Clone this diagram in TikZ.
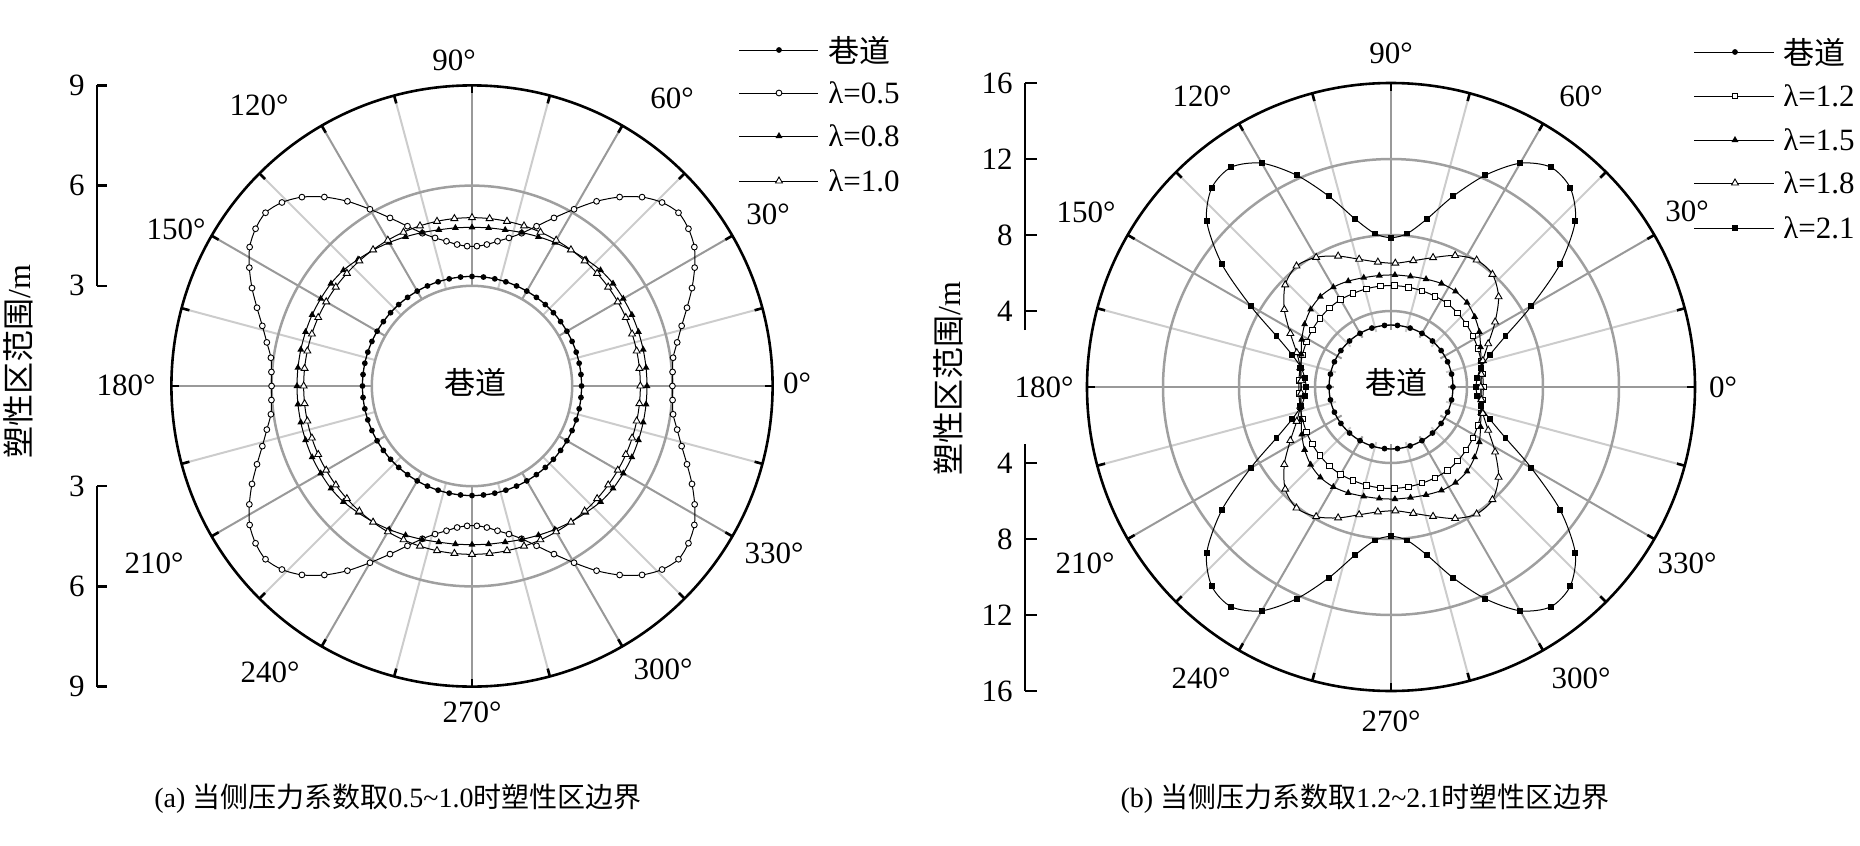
\documentclass[tikz,border=0pt]{standalone}
\usepackage{fontspec}
\setmainfont{Liberation Serif}
\newfontfamily\cjk{Noto Sans CJK SC}
\usetikzlibrary{shapes.geometric}

% plastic zone radius (m) over one quarter, folded angle from 0 deg
\def\rLa{{6.00,6.02,6.08,6.28,6.53,6.85,7.21,7.55,7.85,8.01,8.07,7.91,7.61,7.18,6.67,6.11,5.60,5.16,4.81,4.57,4.40,4.26,4.19}} % 0.5, 4 deg
\def\rLb{{5.24,5.24,5.24,5.24,5.24,5.23,5.22,5.18,5.10,5.03,4.96,4.89,4.83,4.78,4.76,4.75}} % 0.8, 6 deg
\def\rLc{{4.86,4.86,4.87,4.89,4.93,4.96,5.00,5.04,5.08,5.12,5.16,5.20,5.24,5.27,5.30,5.31,5.31,5.31,5.32,5.33,5.33,5.34,5.34}} % 1.2, 4 deg
\def\rLd{{4.75,4.76,4.78,4.84,4.92,5.03,5.16,5.32,5.48,5.62,5.75,5.88,5.98,6.04,6.07,6.07,6.06,6.01,5.97,5.93,5.91,5.90,5.90}} % 1.5, 4 deg
\def\rLe{{4.72,4.74,4.80,4.88,5.03,5.28,5.60,6.00,6.46,6.94,7.39,7.74,7.98,8.08,8.06,7.88,7.70,7.43,7.16,6.93,6.75,6.61,6.52}} % 1.8, 4 deg
\def\rLf{{4.47,4.57,4.83,5.47,6.60,8.53,11.0,13.05,14.1,14.3,13.6,12.2,10.55,9.03,8.12,7.86}} % 2.1, 6 deg
\def\ka{33.4} % px per m, left
\def\kb{19}   % px per m, right

% boundary: table, table step, marker step, marker
\newcommand\bnd[4]{%
  \draw[curve] plot[smooth cycle, variable=\x, samples at={0,#3,...,359}]
    (\x:{#1[int(fold(\x)/#2+0.5)]});
  \foreach \x in {0,#3,...,359}
    \node[#4] at (\x:{#1[int(fold(\x)/#2+0.5)]}) {};
}

\begin{document}
\begin{tikzpicture}[x=0.5pt, y=0.5pt,
    declare function={fold(\x)=90-abs(mod(\x,180)-90);},
    gridl/.style={draw=gray!40, line width=1pt},
    gridd/.style={draw=gray!80, line width=1pt},
    gridc/.style={draw=gray!75, line width=1.25pt},
    rim/.style={draw=black, line width=1.3pt},
    axbar/.style={draw=black, line width=1.15pt},
    curve/.style={draw=black, line width=0.5pt},
    dotm/.style={circle, fill=black, inner sep=0pt, minimum size=2.9pt},
    circm/.style={circle, draw=black, fill=white, line width=0.45pt, inner sep=0pt, minimum size=2.9pt},
    trif/.style={regular polygon, regular polygon sides=3, fill=black, inner sep=0pt, minimum size=4pt},
    trio/.style={trif, draw=black, fill=white, line width=0.45pt},
    sqf/.style={rectangle, fill=black, inner sep=0pt, minimum size=2.9pt},
    sqo/.style={sqf, draw=black, fill=white, line width=0.45pt, minimum size=2.7pt},
    lbl/.style={font=\fontsize{15.5}{18}\selectfont, inner sep=0pt},
    leg/.style={font=\fontsize{15.5}{18}\selectfont, inner sep=0pt, anchor=west}]
  \useasboundingbox (0,0) rectangle (1860,-846);

  % (a) lambda 0.5 ~ 1.0
  \begin{scope}[shift={(472,-386)}]
    \begin{scope}[scale=\ka]
      \foreach \a in {15,45,...,345} \draw[gridl] (\a:3) -- (\a:9);
      \foreach \a in {0,30,...,330} \draw[gridd] (\a:3) -- (\a:9);
      \foreach \r in {3,6} \draw[gridc] (0,0) circle[radius=\r];
      \draw[rim] (0,0) circle[radius=9];
      \foreach \a in {0,15,...,345} \draw[rim] (\a:9) -- (\a:8.76);
      % boundaries
      \draw[curve, line width=0.65pt] (0,0) circle[radius=3.28];
      \foreach \x in {0,6,...,359} \node[dotm] at (\x:3.28) {};
      \bnd{\rLa}{4}{4}{circm}
      \bnd{\rLb}{6}{6}{trif}
      \draw[curve] (0,0) circle[radius=5.04];
      \foreach \x in {0,6,...,359} \node[trio] at (\x:5.04) {};
    \end{scope}

    % angle labels
    \foreach \a/\dx/\dy in {0/325/3, 30/296/172, 60/200/288, 90/-18/326,
        120/-213/281, 150/-296/157, 180/-346/1, 210/-318/-177,
        240/-202/-286, 270/0/-326, 300/191/-283, 330/302/-167}
      \node[lbl] at (\dx,\dy) {\a{}°};

    % radial scale
    \draw[axbar] (-375,{3*\ka}) -- (-375,{9*\ka});
    \draw[axbar] (-375,{-3*\ka}) -- (-375,{-9*\ka});
    \foreach \v in {3,6,9} {
      \draw[axbar] (-375,{\v*\ka}) -- ++(10,0);
      \draw[axbar] (-375,{-\v*\ka}) -- ++(10,0);
      \node[lbl, anchor=east] at (-387,{\v*\ka}) {\v};
      \node[lbl, anchor=east] at (-387,{-\v*\ka}) {\v};
    }
    \node[font=\fontsize{16}{18}\selectfont, rotate=90] (ylabA) at (-454,24) {{\cjk 塑性区范围}/m};
    \node[font=\fontsize{15.5}{18}\selectfont\cjk] (tunA) at (3,4) {巷道};

    % legend
    \foreach \y/\m/\txt in {336/dotm/{\cjk 巷道}, 293/circm/λ=0.5, 250/trif/λ=0.8, 205/trio/λ=1.0} {
      \draw[curve] (267,\y) -- (346,\y);
      \node[\m] at (307,\y) {};
      \node[leg] at (356,\y) {\txt};
    }

    \node[font=\fontsize{14}{17}\selectfont] (capA) at (-74,-413)
      {(a) {\cjk 当侧压力系数取}0.5\textasciitilde1.0{\cjk 时塑性区边界}};
  \end{scope}

  % (b) lambda 1.2 ~ 2.1
  \begin{scope}[shift={(1391,-387)}]
    \begin{scope}[scale=\kb]
      \foreach \a in {15,45,...,345} \draw[gridl] (\a:3) -- (\a:16);
      \foreach \a in {0,30,...,330} \draw[gridd] (\a:3) -- (\a:16);
      \foreach \r in {4,8,12} \draw[gridc] (0,0) circle[radius=\r];
      \draw[rim] (0,0) circle[radius=16];
      \foreach \a in {0,15,...,345} \draw[rim] (\a:16) -- (\a:15.58);
      % boundaries
      \draw[curve, line width=0.65pt] (0,0) circle[radius=3.26];
      \foreach \x in {0,12,...,359} \node[dotm] at (\x:3.26) {};
      \bnd{\rLc}{4}{8}{sqo}
      \bnd{\rLd}{4}{8}{trif}
      \bnd{\rLe}{4}{8}{trio}
      \bnd{\rLf}{6}{6}{sqf}
    \end{scope}

    % angle labels
    \foreach \a/\dx/\dy in {0/332/0, 30/296/176, 60/190/291, 90/0/334,
        120/-189/291, 150/-305/175, 180/-347/0, 210/-306/-176,
        240/-190/-291, 270/0/-334, 300/190/-291, 330/296/-176}
      \node[lbl] at (\dx,\dy) {\a{}°};

    % radial scale
    \draw[axbar] (-366,{3*\kb}) -- (-366,{16*\kb});
    \draw[axbar] (-366,{-3*\kb}) -- (-366,{-16*\kb});
    \foreach \v in {4,8,12,16} {
      \draw[axbar] (-366,{\v*\kb}) -- ++(12,0);
      \draw[axbar] (-366,{-\v*\kb}) -- ++(12,0);
      \node[lbl, anchor=east] at (-378,{\v*\kb}) {\v};
      \node[lbl, anchor=east] at (-378,{-\v*\kb}) {\v};
    }
    \node[font=\fontsize{16}{18}\selectfont, rotate=90] (ylabB) at (-443,8) {{\cjk 塑性区范围}/m};
    \node[font=\fontsize{15.5}{18}\selectfont\cjk] (tunB) at (5,5) {巷道};

    % legend
    \foreach \y/\m/\txt in {335/dotm/{\cjk 巷道}, 291/sqo/λ=1.2, 247/trif/λ=1.5, 204/trio/λ=1.8, 159/sqf/λ=2.1} {
      \draw[curve] (303,\y) -- (383,\y);
      \node[\m] at (344,\y) {};
      \node[leg] at (392,\y) {\txt};
    }

    \node[font=\fontsize{14}{17}\selectfont] (capB) at (-26,-412)
      {(b) {\cjk 当侧压力系数取}1.2\textasciitilde2.1{\cjk 时塑性区边界}};
  \end{scope}
\end{tikzpicture}
\end{document}
